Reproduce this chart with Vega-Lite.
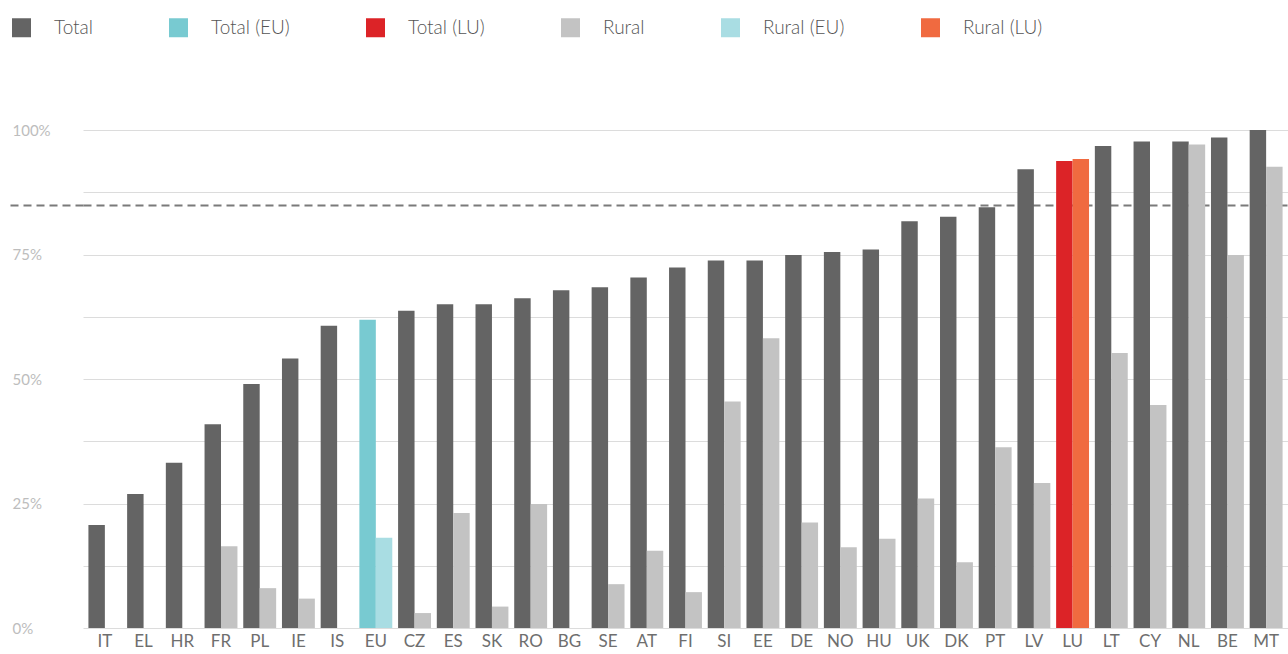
{
  "$schema": "https://vega.github.io/schema/vega-lite/v6.json",
  "autosize": {"type": "none"},
  "padding": {"left": 83, "top": 130, "right": 0, "bottom": 26},
  "width": 1205,
  "height": 498,
  "background": "white",
  "config": {"view": {"stroke": null}, "font": "Lato"},
  "data": {
    "values": [
      {"country": "IT", "type": "Total", "series": "Total", "value": 20.7},
      {"country": "EL", "type": "Total", "series": "Total", "value": 26.9},
      {"country": "HR", "type": "Total", "series": "Total", "value": 33.2},
      {"country": "FR", "type": "Total", "series": "Total", "value": 40.9},
      {"country": "FR", "type": "Rural", "series": "Rural", "value": 16.4},
      {"country": "PL", "type": "Total", "series": "Total", "value": 49.0},
      {"country": "PL", "type": "Rural", "series": "Rural", "value": 8.0},
      {"country": "IE", "type": "Total", "series": "Total", "value": 54.1},
      {"country": "IE", "type": "Rural", "series": "Rural", "value": 5.9},
      {"country": "IS", "type": "Total", "series": "Total", "value": 60.7},
      {"country": "EU", "type": "Total", "series": "Total (EU)", "value": 61.9},
      {"country": "EU", "type": "Rural", "series": "Rural (EU)", "value": 18.1},
      {"country": "CZ", "type": "Total", "series": "Total", "value": 63.7},
      {"country": "CZ", "type": "Rural", "series": "Rural", "value": 3.0},
      {"country": "ES", "type": "Total", "series": "Total", "value": 65.0},
      {"country": "ES", "type": "Rural", "series": "Rural", "value": 23.1},
      {"country": "SK", "type": "Total", "series": "Total", "value": 65.0},
      {"country": "SK", "type": "Rural", "series": "Rural", "value": 4.3},
      {"country": "RO", "type": "Total", "series": "Total", "value": 66.2},
      {"country": "RO", "type": "Rural", "series": "Rural", "value": 24.9},
      {"country": "BG", "type": "Total", "series": "Total", "value": 67.8},
      {"country": "SE", "type": "Total", "series": "Total", "value": 68.4},
      {"country": "SE", "type": "Rural", "series": "Rural", "value": 8.8},
      {"country": "AT", "type": "Total", "series": "Total", "value": 70.4},
      {"country": "AT", "type": "Rural", "series": "Rural", "value": 15.5},
      {"country": "FI", "type": "Total", "series": "Total", "value": 72.4},
      {"country": "FI", "type": "Rural", "series": "Rural", "value": 7.2},
      {"country": "SI", "type": "Total", "series": "Total", "value": 73.8},
      {"country": "SI", "type": "Rural", "series": "Rural", "value": 45.5},
      {"country": "EE", "type": "Total", "series": "Total", "value": 73.8},
      {"country": "EE", "type": "Rural", "series": "Rural", "value": 58.2},
      {"country": "DE", "type": "Total", "series": "Total", "value": 74.9},
      {"country": "DE", "type": "Rural", "series": "Rural", "value": 21.2},
      {"country": "NO", "type": "Total", "series": "Total", "value": 75.5},
      {"country": "NO", "type": "Rural", "series": "Rural", "value": 16.2},
      {"country": "HU", "type": "Total", "series": "Total", "value": 76.0},
      {"country": "HU", "type": "Rural", "series": "Rural", "value": 17.9},
      {"country": "UK", "type": "Total", "series": "Total", "value": 81.7},
      {"country": "UK", "type": "Rural", "series": "Rural", "value": 26.0},
      {"country": "DK", "type": "Total", "series": "Total", "value": 82.6},
      {"country": "DK", "type": "Rural", "series": "Rural", "value": 13.2},
      {"country": "PT", "type": "Total", "series": "Total", "value": 84.5},
      {"country": "PT", "type": "Rural", "series": "Rural", "value": 36.3},
      {"country": "LV", "type": "Total", "series": "Total", "value": 92.1},
      {"country": "LV", "type": "Rural", "series": "Rural", "value": 29.1},
      {"country": "LU", "type": "Total", "series": "Total (LU)", "value": 93.8},
      {"country": "LU", "type": "Rural", "series": "Rural (LU)", "value": 94.2},
      {"country": "LT", "type": "Total", "series": "Total", "value": 96.8},
      {"country": "LT", "type": "Rural", "series": "Rural", "value": 55.2},
      {"country": "CY", "type": "Total", "series": "Total", "value": 97.7},
      {"country": "CY", "type": "Rural", "series": "Rural", "value": 44.8},
      {"country": "NL", "type": "Total", "series": "Total", "value": 97.7},
      {"country": "NL", "type": "Rural", "series": "Rural", "value": 97.1},
      {"country": "BE", "type": "Total", "series": "Total", "value": 98.5},
      {"country": "BE", "type": "Rural", "series": "Rural", "value": 74.9},
      {"country": "MT", "type": "Total", "series": "Total", "value": 100.0},
      {"country": "MT", "type": "Rural", "series": "Rural", "value": 92.6}
    ]
  },
  "mark": {"type": "bar", "stroke": null},
  "encoding": {
    "x": {
      "field": "country",
      "type": "nominal",
      "sort": null,
      "scale": {"paddingInner": 0.15, "paddingOuter": 0.14},
      "axis": {
        "title": null,
        "labelAngle": 0,
        "domain": false,
        "ticks": false,
        "labelColor": "#6e6e6e",
        "labelFontSize": 17,
        "labelFontWeight": "normal",
        "labelPadding": 5,
        "labelFont": "Lato"
      }
    },
    "xOffset": {
      "field": "type",
      "type": "nominal",
      "scale": {"domain": ["Total", "Rural"], "paddingInner": 0, "paddingOuter": 0}
    },
    "y": {
      "field": "value",
      "type": "quantitative",
      "stack": null,
      "scale": {"domain": [0, 100], "nice": false},
      "axis": {
        "title": null,
        "values": [0, 12.5, 25, 37.5, 50, 62.5, 75, 85, 87.5, 100],
        "labelExpr": "datum.value % 25 === 0 ? datum.value + '%' : ''",
        "domain": false,
        "labelAlign": "left",
        "labelBaseline": "middle",
        "labelPadding": -2,
        "labelColor": "#bdbdbd",
        "labelFontSize": 15,
        "labelFontWeight": "normal",
        "tickSize": 73,
        "tickWidth": 2,
        "tickDash": [8, 5],
        "tickColor": {"condition": {"test": "datum.value === 85", "value": "#7a7a7a"}, "value": "transparent"},
        "grid": true,
        "gridColor": {"condition": {"test": "datum.value === 85", "value": "#7a7a7a"}, "value": "#dcdcdc"},
        "gridWidth": {"condition": {"test": "datum.value === 85", "value": 2}, "value": 1},
        "gridDash": {"condition": {"test": "datum.value === 85", "value": [8, 5]}, "value": []}
      }
    },
    "color": {
      "field": "series",
      "type": "nominal",
      "scale": {
        "domain": ["Total", "Total (EU)", "Total (LU)", "Rural", "Rural (EU)", "Rural (LU)"],
        "range": ["#646464", "#78cad1", "#dc2327", "#c3c3c3", "#a9dde3", "#f06a40"]
      },
      "legend": {
        "title": null,
        "orient": "none",
        "direction": "horizontal",
        "legendX": -71,
        "legendY": -112,
        "symbolType": "square",
        "symbolSize": 361,
        "symbolStrokeWidth": 0,
        "labelFontSize": 19,
        "labelFontWeight": 300,
        "labelColor": "#555555",
        "labelOffset": 23,
        "columnPadding": 76,
        "padding": 0
      }
    }
  }
}
